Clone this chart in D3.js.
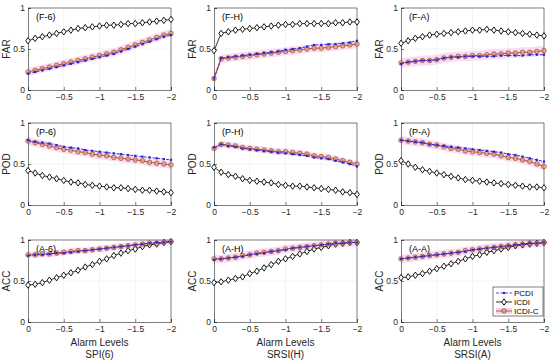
<!DOCTYPE html>
<html>
<head>
<meta charset="utf-8">
<script src="https://cdn.jsdelivr.net/npm/d3@7"></script>
<style>
  body { margin: 0; background: #fff; }
  svg { font-family: "Liberation Sans", Arial, sans-serif; }
</style>
</head>
<body>
<svg id="chart" width="550" height="360"></svg>
<script>
// alarm levels 0 .. -2 step 0.1
const levels = [0,-0.1,-0.2,-0.3,-0.4,-0.5,-0.6,-0.7,-0.8,-0.9,-1,-1.1,-1.2,-1.3,-1.4,-1.5,-1.6,-1.7,-1.8,-1.9,-2];
const xTicks = [0, -0.5, -1, -1.5, -2];
const yTicks = [0, 0.5, 1];
const seriesNames = ["PCDI", "ICDI", "ICDI-C"];
const metrics = ["FAR", "POD", "ACC"];
const indices = ["SPI(6)", "SRSI(H)", "SRSI(A)"];
const tags = [["(F-6)","(F-H)","(F-A)"],["(P-6)","(P-H)","(P-A)"],["(A-6)","(A-H)","(A-A)"]];

// FAR
const far6_pcdi  = [0.20,0.22,0.24,0.26,0.28,0.30,0.32,0.34,0.36,0.38,0.40,0.42,0.44,0.47,0.50,0.53,0.56,0.59,0.62,0.65,0.67];
const far6_icdi  = [0.60,0.63,0.65,0.67,0.69,0.71,0.73,0.75,0.76,0.77,0.78,0.79,0.79,0.80,0.81,0.81,0.82,0.83,0.84,0.85,0.86];
const far6_icdic = [0.22,0.24,0.26,0.28,0.30,0.32,0.34,0.36,0.38,0.40,0.42,0.44,0.46,0.49,0.52,0.55,0.58,0.61,0.64,0.67,0.69];
const farH_pcdi  = [0.14,0.39,0.40,0.41,0.42,0.43,0.44,0.45,0.46,0.47,0.49,0.50,0.51,0.53,0.55,0.55,0.56,0.56,0.57,0.58,0.60];
const farH_icdi  = [0.48,0.69,0.71,0.73,0.74,0.75,0.76,0.77,0.78,0.79,0.80,0.80,0.81,0.81,0.81,0.81,0.81,0.82,0.82,0.83,0.83];
const farH_icdic = [0.14,0.38,0.39,0.40,0.41,0.42,0.43,0.44,0.45,0.46,0.47,0.48,0.49,0.50,0.51,0.51,0.52,0.53,0.54,0.55,0.56];
const farA_pcdi  = [0.32,0.34,0.35,0.36,0.36,0.37,0.39,0.40,0.40,0.41,0.41,0.41,0.41,0.41,0.42,0.42,0.42,0.42,0.43,0.43,0.43];
const farA_icdi  = [0.57,0.60,0.63,0.65,0.67,0.68,0.69,0.70,0.71,0.72,0.73,0.73,0.74,0.73,0.72,0.71,0.70,0.69,0.68,0.67,0.66];
const farA_icdic = [0.33,0.34,0.35,0.36,0.36,0.37,0.39,0.40,0.41,0.41,0.42,0.42,0.43,0.44,0.44,0.45,0.45,0.46,0.46,0.47,0.48];
// POD
const pod6_pcdi  = [0.79,0.77,0.76,0.75,0.73,0.71,0.70,0.69,0.67,0.66,0.65,0.64,0.63,0.62,0.61,0.60,0.59,0.58,0.57,0.56,0.55];
const pod6_icdi  = [0.42,0.39,0.36,0.34,0.32,0.30,0.28,0.27,0.25,0.24,0.23,0.22,0.21,0.21,0.20,0.19,0.18,0.18,0.17,0.16,0.15];
const pod6_icdic = [0.78,0.76,0.74,0.72,0.70,0.68,0.67,0.65,0.64,0.62,0.61,0.60,0.58,0.57,0.56,0.55,0.54,0.52,0.51,0.50,0.49];
const podH_pcdi  = [0.70,0.74,0.72,0.71,0.69,0.68,0.67,0.66,0.65,0.64,0.63,0.62,0.61,0.60,0.58,0.57,0.56,0.54,0.52,0.50,0.47];
const podH_icdi  = [0.46,0.40,0.37,0.35,0.32,0.30,0.29,0.28,0.27,0.25,0.24,0.23,0.23,0.22,0.21,0.20,0.19,0.18,0.16,0.15,0.13];
const podH_icdic = [0.69,0.74,0.73,0.72,0.70,0.69,0.68,0.67,0.66,0.65,0.65,0.64,0.63,0.62,0.60,0.59,0.58,0.56,0.54,0.52,0.50];
const podA_pcdi  = [0.79,0.78,0.77,0.76,0.74,0.73,0.72,0.71,0.70,0.69,0.68,0.67,0.66,0.65,0.64,0.62,0.61,0.59,0.57,0.55,0.53];
const podA_icdi  = [0.54,0.50,0.46,0.43,0.41,0.39,0.37,0.35,0.33,0.31,0.30,0.29,0.28,0.27,0.26,0.25,0.24,0.23,0.22,0.22,0.21];
const podA_icdic = [0.79,0.78,0.77,0.76,0.74,0.73,0.71,0.69,0.68,0.66,0.65,0.64,0.63,0.62,0.60,0.58,0.57,0.55,0.53,0.50,0.47];
// ACC
const acc6_pcdi  = [0.81,0.82,0.82,0.83,0.84,0.84,0.85,0.86,0.87,0.88,0.89,0.90,0.91,0.92,0.93,0.94,0.95,0.96,0.97,0.97,0.98];
const acc6_icdi  = [0.45,0.46,0.48,0.51,0.54,0.57,0.60,0.63,0.67,0.70,0.74,0.77,0.81,0.84,0.87,0.89,0.92,0.94,0.95,0.97,0.98];
const acc6_icdic = [0.82,0.82,0.83,0.83,0.84,0.85,0.86,0.87,0.87,0.88,0.89,0.90,0.91,0.92,0.93,0.94,0.95,0.96,0.96,0.97,0.98];
const accH_pcdi  = [0.76,0.77,0.78,0.79,0.80,0.82,0.83,0.84,0.86,0.87,0.88,0.90,0.91,0.92,0.93,0.94,0.95,0.96,0.96,0.97,0.97];
const accH_icdi  = [0.48,0.49,0.51,0.53,0.55,0.59,0.62,0.66,0.70,0.74,0.77,0.80,0.83,0.86,0.89,0.91,0.93,0.95,0.96,0.97,0.97];
const accH_icdic = [0.77,0.77,0.78,0.79,0.81,0.82,0.84,0.85,0.86,0.87,0.89,0.90,0.91,0.92,0.93,0.94,0.95,0.96,0.96,0.97,0.97];
const accA_pcdi  = [0.77,0.78,0.79,0.80,0.81,0.82,0.83,0.84,0.85,0.86,0.88,0.89,0.90,0.91,0.92,0.93,0.94,0.95,0.96,0.96,0.97];
const accA_icdi  = [0.54,0.55,0.57,0.59,0.62,0.65,0.68,0.71,0.74,0.77,0.80,0.82,0.85,0.87,0.89,0.91,0.93,0.94,0.95,0.96,0.97];
const accA_icdic = [0.77,0.78,0.79,0.80,0.81,0.82,0.83,0.84,0.85,0.87,0.88,0.89,0.90,0.91,0.92,0.93,0.94,0.95,0.96,0.96,0.97];

// half width of the pink band around ICDI-C, per panel (row x col)
const bandHalf = [[0.05,0.05,0.06],[0.05,0.04,0.05],[0.04,0.05,0.05]];

const panels = [
  [[far6_pcdi, far6_icdi, far6_icdic], [farH_pcdi, farH_icdi, farH_icdic], [farA_pcdi, farA_icdi, farA_icdic]],
  [[pod6_pcdi, pod6_icdi, pod6_icdic], [podH_pcdi, podH_icdi, podH_icdic], [podA_pcdi, podA_icdi, podA_icdic]],
  [[acc6_pcdi, acc6_icdi, acc6_icdic], [accH_pcdi, accH_icdi, accH_icdic], [accA_pcdi, accA_icdi, accA_icdic]]
];

const svg = d3.select("#chart");
const colLeft = [28, 214, 401];
const rowTop = [8, 123, 240];
const pw = 143, ph = 82;

const blue = "#2323d8", ochre = "#dba47a", brown = "#a0442a", band = "#f9d2f0";
const diamond = "M0,-3.2L2.3,0L0,3.2L-2.3,0Z";

for (let r = 0; r < 3; r++) {
  for (let c = 0; c < 3; c++) {
    const x = d3.scaleLinear().domain([0, -2]).range([colLeft[c], colLeft[c] + pw]);
    const y = d3.scaleLinear().domain([0, 1]).range([rowTop[r] + ph, rowTop[r]]);
    const g = svg.append("g");
    const [pcdi, icdi, icdic] = panels[r][c];

    // grid
    g.append("g").selectAll("line").data(xTicks.slice(1, -1)).join("line")
      .attr("x1", d => x(d)).attr("x2", d => x(d))
      .attr("y1", y(0)).attr("y2", y(1))
      .attr("stroke", "#ebebeb").attr("stroke-width", 0.6);
    g.append("g").selectAll("line").data([0.5]).join("line")
      .attr("x1", x(0)).attr("x2", x(-2))
      .attr("y1", d => y(d)).attr("y2", d => y(d))
      .attr("stroke", "#ebebeb").attr("stroke-width", 0.6);

    // band
    const hw = bandHalf[r][c];
    g.append("path")
      .datum(levels.map((l, i) => [l, icdic[i]]))
      .attr("fill", band).attr("opacity", 0.8)
      .attr("d", d3.area().x(d => x(d[0])).y0(d => y(d[1] - hw)).y1(d => y(Math.min(1, d[1] + hw))));

    // axes
    const xa = g.append("g").attr("transform", `translate(0,${y(0)})`)
      .call(d3.axisBottom(x).tickValues(xTicks).tickSize(-3).tickPadding(4).tickFormat(d3.format("")));
    const ya = g.append("g").attr("transform", `translate(${x(0)},0)`)
      .call(d3.axisLeft(y).tickValues(yTicks).tickSize(-3).tickPadding(3).tickFormat(d3.format("")));
    [xa, ya].forEach(a => {
      a.select(".domain").attr("stroke", "#262626").attr("stroke-width", 0.6);
      a.selectAll(".tick line").attr("stroke", "#262626").attr("stroke-width", 0.6);
      a.selectAll(".tick text").attr("font-size", 8.5).attr("fill", "#262626");
    });
    // box top/right
    g.append("path")
      .attr("d", `M${x(0)},${y(1)}H${x(-2)}V${y(0)}`)
      .attr("fill", "none").attr("stroke", "#262626").attr("stroke-width", 0.6);

    const line = d3.line().x((d, i) => x(levels[i])).y(d => y(d));

    // ICDI
    g.append("path").datum(icdi).attr("d", line)
      .attr("fill", "none").attr("stroke", "#000").attr("stroke-width", 0.8);
    g.append("g").selectAll("path").data(icdi).join("path")
      .attr("transform", (d, i) => `translate(${x(levels[i])},${y(d)})`)
      .attr("d", diamond)
      .attr("fill", "#fff").attr("stroke", "#000").attr("stroke-width", 0.9);

    // ICDI-C
    g.append("path").datum(icdic).attr("d", line)
      .attr("fill", "none").attr("stroke", brown).attr("stroke-width", 0.9);
    g.append("g").selectAll("circle").data(icdic).join("circle")
      .attr("cx", (d, i) => x(levels[i])).attr("cy", d => y(d)).attr("r", 2.3)
      .attr("fill", ochre).attr("fill-opacity", 0.7).attr("stroke", brown).attr("stroke-width", 0.7);

    // PCDI
    g.append("path").datum(pcdi).attr("d", line)
      .attr("fill", "none").attr("stroke", blue).attr("stroke-width", 0.9).attr("stroke-dasharray", "3,1.5");
    g.append("g").selectAll("rect").data(pcdi).join("rect")
      .attr("x", (d, i) => x(levels[i]) - 1.1).attr("y", d => y(d) - 1.1)
      .attr("width", 2.2).attr("height", 2.2).attr("fill", blue);

    // panel tag
    g.append("text").attr("x", x(0) + 8).attr("y", y(1) + 12)
      .attr("font-size", 9).attr("fill", "#000").text(tags[r][c]);

    // y label
    g.append("text")
      .attr("transform", `translate(${x(0) - 18},${y(0.5)}) rotate(-90)`)
      .attr("text-anchor", "middle").attr("font-size", 10).attr("fill", "#262626")
      .text(metrics[r]);

    if (r === 2) {
      g.append("text").attr("x", (x(0) + x(-2)) / 2).attr("y", y(0) + 24)
        .attr("text-anchor", "middle").attr("font-size", 10).attr("fill", "#262626").text("Alarm Levels");
      g.append("text").attr("x", (x(0) + x(-2)) / 2).attr("y", y(0) + 36)
        .attr("text-anchor", "middle").attr("font-size", 10).attr("fill", "#262626").text(indices[c]);
    }
  }
}

// legend
const lg = svg.append("g").attr("transform", "translate(493,287)");
lg.append("rect").attr("width", 50).attr("height", 29).attr("fill", "#fff")
  .attr("stroke", "#262626").attr("stroke-width", 0.6);
seriesNames.forEach((name, i) => {
  const yy = 6 + i * 9;
  const row = lg.append("g").attr("transform", `translate(0,${yy})`);
  if (i === 2) row.append("rect").attr("x", 3).attr("y", -3).attr("width", 16).attr("height", 6).attr("fill", band);
  row.append("line").attr("x1", 3).attr("x2", 19)
    .attr("stroke", i === 0 ? blue : i === 1 ? "#000" : brown).attr("stroke-width", 0.8)
    .attr("stroke-dasharray", i === 0 ? "3,1.5" : null);
  if (i === 0) row.append("rect").attr("x", 9.9).attr("y", -1.1).attr("width", 2.2).attr("height", 2.2).attr("fill", blue);
  if (i === 1) row.append("path").attr("transform", "translate(11,0)").attr("d", diamond)
    .attr("fill", "#fff").attr("stroke", "#000").attr("stroke-width", 0.9);
  if (i === 2) row.append("circle").attr("cx", 11).attr("r", 2.3).attr("fill", ochre).attr("fill-opacity", 0.7)
    .attr("stroke", brown).attr("stroke-width", 0.7);
  row.append("text").attr("x", 21).attr("y", 3).attr("font-size", 8).attr("fill", "#000").text(name);
});
</script>
</body>
</html>
